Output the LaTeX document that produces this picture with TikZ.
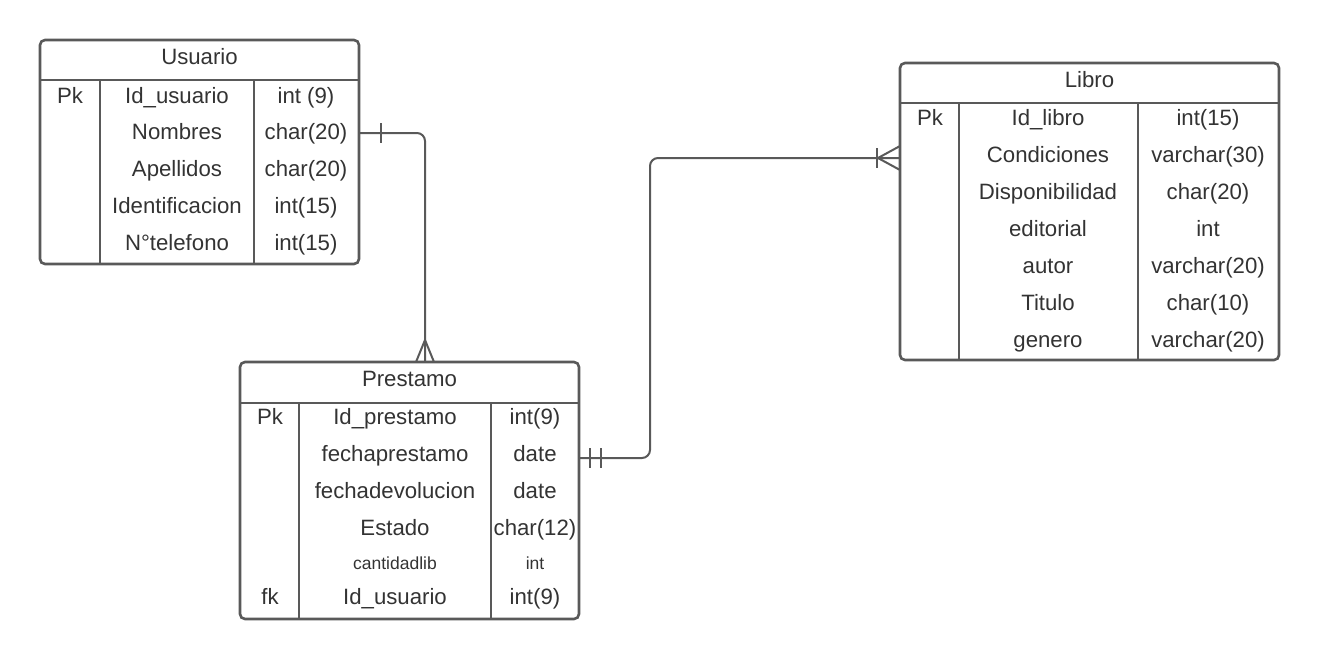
\documentclass[tikz,border=0pt]{standalone}
\usepackage{fontspec}
\setmainfont{Liberation Sans}
\usetikzlibrary{calc}
\definecolor{ln}{HTML}{595959}
\definecolor{tx}{HTML}{333333}
\begin{document}
\begin{tikzpicture}[x=1pt,y=-1pt,
  tbl/.style={draw=ln,line width=2.6pt,rounded corners=5pt,inner sep=0pt,outer sep=0pt},
  sep/.style={draw=ln,line width=2.6pt},
  cell/.style={text=tx,inner sep=0pt,text height=15.9pt,text depth=0pt,font=\fontsize{22.2}{26}\selectfont},
  small/.style={text=tx,inner sep=0pt,text height=12.5pt,text depth=0pt,font=\fontsize{17.5}{20}\selectfont},
  conn/.style={draw=ln,line width=2pt,rounded corners=8pt},
  tick/.style={draw=ln,line width=2pt}]
\useasboundingbox (0,0) rectangle (1320,659);
% Usuario
\node[tbl,minimum width=319pt,minimum height=224pt] (usu) at (199.5,152) {};
\draw[sep] (usu.west |- 0,80) -- (usu.east |- 0,80);
\draw[sep] (100,80) -- (100,264);
\draw[sep] (254,80) -- (254,264);
\node[cell] (usuh) at (199.5,57) {Usuario};
\node[cell] (u1a) at (70,96) {Pk};
\node[cell] (u1b) at (177,96) {Id\_usuario};
\node[cell] (u1c) at (306,96) {int (9)};
\node[cell] (u2b) at (177,132) {Nombres};
\node[cell] (u2c) at (306,132) {char(20)};
\node[cell] (u3b) at (177,169) {Apellidos};
\node[cell] (u3c) at (306,169) {char(20)};
\node[cell] (u4b) at (177,206) {Identificacion};
\node[cell] (u4c) at (306,206) {int(15)};
\node[cell] (u5b) at (177,243) {N°telefono};
\node[cell] (u5c) at (306,243) {int(15)};
% Prestamo
\node[tbl,minimum width=339pt,minimum height=257pt] (pre) at (409.5,490.5) {};
\draw[sep] (pre.west |- 0,403) -- (pre.east |- 0,403);
\draw[sep] (299,403) -- (299,619);
\draw[sep] (491,403) -- (491,619);
\node[cell] (preh) at (409.5,379) {Prestamo};
\node[cell] (p1a) at (270,417) {Pk};
\node[cell] (p1b) at (395,417) {Id\_prestamo};
\node[cell] (p1c) at (535,417) {int(9)};
\node[cell] (p2b) at (395,454) {fechaprestamo};
\node[cell] (p2c) at (535,454) {date};
\node[cell] (p3b) at (395,491) {fechadevolucion};
\node[cell] (p3c) at (535,491) {date};
\node[cell] (p4b) at (395,528) {Estado};
\node[cell] (p4c) at (535,528) {char(12)};
\node[small] (p5b) at (395,563) {cantidadlib};
\node[small] (p5c) at (535,563) {int};
\node[cell] (p6a) at (270,597) {fk};
\node[cell] (p6b) at (395,597) {Id\_usuario};
\node[cell] (p6c) at (535,597) {int(9)};
% Libro
\node[tbl,minimum width=379pt,minimum height=297pt] (lib) at (1089.5,211.5) {};
\draw[sep] (lib.west |- 0,103) -- (lib.east |- 0,103);
\draw[sep] (959,103) -- (959,360);
\draw[sep] (1138,103) -- (1138,360);
\node[cell] (libh) at (1089.5,80) {Libro};
\node[cell] (l1a) at (930,118) {Pk};
\node[cell] (l1b) at (1048,118) {Id\_libro};
\node[cell] (l1c) at (1208,118) {int(15)};
\node[cell] (l2b) at (1048,155) {Condiciones};
\node[cell] (l2c) at (1208,155) {varchar(30)};
\node[cell] (l3b) at (1048,192) {Disponibilidad};
\node[cell] (l3c) at (1208,192) {char(20)};
\node[cell] (l4b) at (1048,229) {editorial};
\node[cell] (l4c) at (1208,229) {int};
\node[cell] (l5b) at (1048,266) {autor};
\node[cell] (l5c) at (1208,266) {varchar(20)};
\node[cell] (l6b) at (1048,303) {Titulo};
\node[cell] (l6c) at (1208,303) {char(10)};
\node[cell] (l7b) at (1048,340) {genero};
\node[cell] (l7c) at (1208,340) {varchar(20)};
% connector Usuario - Prestamo
\coordinate (ua) at (usu.east |- 0,133);
\coordinate (pa) at (pre.north -| 425,0);
\draw[conn] (ua) -| (pa);
\draw[tick] ($(ua)+(22,-10)$) -- ($(ua)+(22,10)$);
\draw[tick] ($(pa)+(0,-22)$) -- ($(pa)+(-9,0)$);
\draw[tick] ($(pa)+(0,-22)$) -- ($(pa)+(9,0)$);
% connector Prestamo - Libro
\coordinate (pb) at (pre.east |- 0,458);
\coordinate (lb) at (lib.west |- 0,158);
\draw[conn] (pb) -- (650,458) -- (650,158) -- (lb);
\draw[tick] ($(pb)+(11,-10)$) -- ($(pb)+(11,10)$);
\draw[tick] ($(pb)+(22,-10)$) -- ($(pb)+(22,10)$);
\draw[tick] ($(lb)+(-23,-10)$) -- ($(lb)+(-23,10)$);
\draw[tick] ($(lb)+(-22,0)$) -- ($(lb)+(0,-12)$);
\draw[tick] ($(lb)+(-22,0)$) -- ($(lb)+(0,12)$);
\end{tikzpicture}
\end{document}
